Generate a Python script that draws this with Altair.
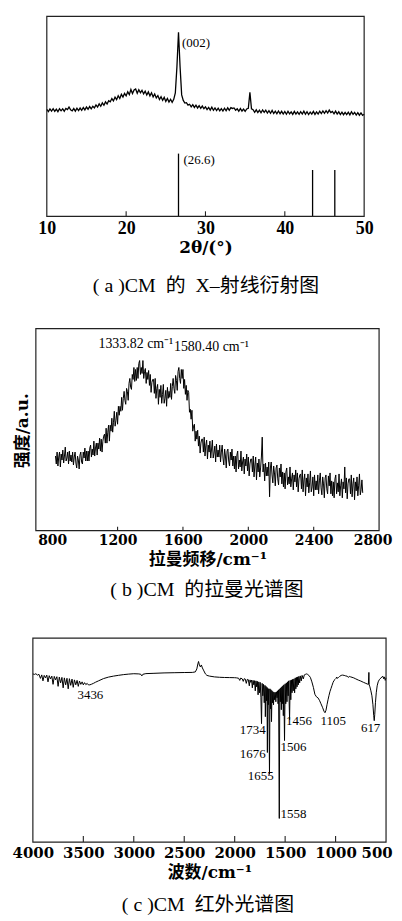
import altair as alt
import pandas as pd

LAT = "Liberation Serif, Noto Sans CJK SC"
DJV = "DejaVu Serif, Noto Sans CJK SC"
INK = "black"

# ---------------- (a) XRD ----------------
xrd_start, xrd_step = 10.0, 0.2
xrd_intensity = [
    107.5, 105.2, 108.0, 105.8, 108.2, 105.5, 107.6, 105.1, 108.1, 106.0,
    107.9, 105.6, 108.4, 107.2, 109.8, 107.0, 105.9, 108.3, 105.7, 108.6,
    106.2, 108.8, 106.5, 109.3, 106.9, 109.8, 107.6, 110.3, 108.0, 110.6,
    109.0, 112.0, 109.8, 113.0, 110.6, 114.0, 111.6, 115.0, 112.8, 116.2,
    115.0, 118.3, 115.9, 119.8, 117.2, 121.2, 118.4, 122.6, 119.8, 123.5,
    121.0, 125.2, 122.3, 127.5, 123.4, 126.9, 128.0, 123.6, 127.2, 124.2,
    126.6, 123.0, 125.8, 121.9, 125.0, 121.0, 124.1, 120.0, 123.0, 119.0,
    121.3, 117.4, 120.2, 116.5, 119.5, 115.5, 118.4, 114.8, 117.6, 114.6,
    117.5, 124.0, 150.0, 185.0, 150.0, 122.0, 116.5, 113.8, 114.2, 111.8,
    112.6, 110.0, 112.2, 109.4, 111.7, 108.9, 111.1, 108.5, 110.8, 108.1,
    110.0, 107.2, 109.4, 106.7, 109.6, 106.5, 108.9, 106.3, 108.7, 106.0,
    108.2, 105.8, 108.6, 106.1, 109.0, 106.6, 109.2, 108.4, 108.9, 106.6,
    108.0, 105.6, 108.3, 105.8, 107.8, 105.4, 107.9, 108.5, 124.5, 108.0,
    107.2, 104.5, 107.0, 104.2, 106.7, 104.0, 106.9, 104.4, 106.6, 103.8,
    106.2, 103.5, 106.4, 103.3, 105.7, 103.0, 105.8, 103.1, 105.5, 102.8,
    105.3, 102.6, 105.6, 102.9, 105.0, 102.4, 105.4, 102.7, 104.9, 102.5,
    105.2, 102.8, 105.7, 102.6, 105.1, 102.3, 104.8, 102.7, 105.4, 102.4,
    105.0, 102.7, 105.6, 103.2, 105.9, 103.5, 106.1, 103.8, 106.7, 104.2,
    105.4, 103.0, 105.7, 102.7, 105.0, 102.3, 104.7, 102.1, 104.5, 102.2,
    104.7, 102.0, 105.1, 102.4, 104.4, 101.8, 104.2, 101.6, 103.9, 101.4,
    102.6,
]
xrd_2theta = [round(xrd_start + xrd_step * i, 1) for i in range(len(xrd_intensity))]
xrd_ref_pos = [26.6, 43.5, 46.3]
xrd_ref_height = [63, 46.5, 46.5]
xrd_label_x = [28.8, 29.2]
xrd_label_y = [174, 57]
xrd_label_text = ["(002)", "(26.6)"]
xrd_domain = [10, 50]
xrd_top = 201
xrd_tick_labels = [10, 20, 30, 40, 50]
xrd_inner_ticks = [20, 30, 40]

# ---------------- (b) Raman ----------------
raman_start, raman_step = 820, 5
raman_intensity = [
    75, 67, 79, 65, 74, 79, 64, 77, 71, 81, 68, 75, 84, 70, 73, 79, 67, 80, 70, 76,
    69, 79, 66, 74, 79, 68, 63, 75, 71, 62, 76, 79, 69, 67, 79, 73, 83, 70, 80, 70,
    80, 70, 83, 86, 74, 82, 76, 90, 75, 83, 88, 76, 88, 82, 93, 80, 92, 79, 90, 95,
    97, 88, 103, 88, 99, 106, 90, 106, 100, 113, 99, 109, 120, 105, 111, 119, 107, 125, 116, 125,
    120, 134, 121, 133, 140, 131, 127, 143, 140, 131, 148, 153, 144, 142, 157, 152, 164, 150, 162, 151,
    164, 153, 168, 171, 157, 164, 158, 171, 153, 160, 163, 148, 159, 152, 161, 146, 157, 139, 149, 152,
    152, 138, 153, 133, 143, 147, 127, 142, 134, 146, 128, 137, 147, 128, 133, 141, 125, 144, 133, 140,
    134, 148, 132, 145, 153, 143, 138, 156, 151, 141, 160, 164, 153, 148, 162, 153, 162, 143, 152, 137,
    146, 131, 141, 139, 119, 122, 112, 121, 100, 105, 107, 90, 100, 92, 101, 85, 95, 78, 88, 92,
    92, 79, 94, 75, 86, 91, 72, 86, 79, 90, 73, 82, 91, 73, 78, 85, 69, 87, 74, 81,
    74, 86, 69, 79, 86, 73, 66, 82, 75, 63, 80, 82, 70, 65, 79, 71, 82, 65, 75, 62,
    75, 59, 76, 80, 62, 71, 64, 80, 60, 69, 74, 57, 72, 65, 77, 60, 74, 55, 67, 72,
    72, 59, 75, 54, 66, 74, 51, 68, 59, 72, 54, 63, 74, 94, 59, 67, 50, 68, 55, 64,
    55, 69, 34, 63, 69, 56, 48, 65, 58, 45, 63, 66, 52, 46, 63, 54, 67, 47, 59, 44,
    58, 42, 59, 63, 46, 54, 47, 64, 44, 52, 58, 41, 56, 49, 61, 44, 58, 39, 52, 56,
    57, 42, 61, 39, 51, 57, 35, 53, 44, 57, 38, 48, 60, 39, 44, 54, 35, 56, 41, 50,
    41, 56, 37, 50, 58, 43, 36, 54, 47, 33, 53, 56, 42, 37, 55, 45, 58, 37, 50, 35,
    49, 33, 52, 56, 37, 48, 39, 57, 35, 45, 52, 33, 49, 42, 64, 38, 53, 32, 47, 52,
    52, 37, 56, 34, 47, 53, 31, 49, 40, 54, 35, 45, 57, 36, 41, 51, 38,
]
raman_shift = [raman_start + raman_step * i for i in range(len(raman_intensity))]
raman_label_x = [1312, 1774]
raman_label_y = [188, 185]
raman_label_text = ["1333.82 cm⁻¹", "1580.40 cm⁻¹"]
raman_domain = [700, 2800]
raman_top = 203
raman_tick_labels = [800, 1200, 1600, 2000, 2400, 2800]
raman_inner_ticks = [1200, 1600, 2000, 2400]

# ---------------- (c) IR ----------------
ir_wavenumber = [
    4000, 3985, 3970, 3955, 3940, 3925, 3912, 3900, 3888, 3875,
    3862, 3850, 3838, 3825, 3812, 3800, 3788, 3775, 3762, 3750,
    3738, 3725, 3712, 3700, 3688, 3675, 3662, 3650, 3638, 3625,
    3612, 3600, 3588, 3575, 3562, 3550, 3538, 3525, 3512, 3500,
    3488, 3475, 3462, 3450, 3436, 3420, 3400, 3380, 3350, 3300,
    3250, 3200, 3150, 3100, 3050, 3000, 2950, 2930, 2920, 2910,
    2880, 2800, 2700, 2600, 2500, 2420, 2390, 2375, 2365, 2358,
    2350, 2340, 2330, 2320, 2305, 2290, 2275, 2250, 2200, 2150,
    2100, 2050, 2000, 1980, 1960, 1950, 1940, 1925, 1915, 1905,
    1895, 1885, 1875, 1865, 1855, 1848, 1840, 1832, 1825, 1818,
    1810, 1803, 1796, 1789, 1782, 1775, 1768, 1761, 1754, 1747,
    1740, 1734, 1728, 1721, 1714, 1707, 1700, 1696, 1690, 1684,
    1680, 1676, 1672, 1667, 1662, 1655, 1650, 1645, 1640, 1635,
    1630, 1625, 1620, 1615, 1610, 1604, 1598, 1592, 1586, 1580,
    1575, 1570, 1565, 1558, 1553, 1548, 1543, 1538, 1533, 1528,
    1523, 1518, 1513, 1506, 1500, 1494, 1488, 1482, 1476, 1470,
    1465, 1456, 1450, 1444, 1438, 1432, 1426, 1420, 1413, 1406,
    1400, 1394, 1388, 1382, 1376, 1370, 1364, 1356, 1350, 1340,
    1332, 1320, 1310, 1300, 1290, 1280, 1265, 1250, 1235, 1220,
    1205, 1190, 1175, 1160, 1145, 1130, 1115, 1105, 1095, 1085,
    1075, 1065, 1055, 1045, 1035, 1025, 1015, 1005, 995, 990,
    985, 970, 960, 945, 930, 915, 900, 885, 875, 865,
    850, 820, 800, 775, 750, 725, 700, 685, 675, 670,
    667, 660, 650, 640, 630, 622, 617, 612, 605, 597,
    588, 578, 565, 550, 540, 530, 522, 515, 508, 500,
]
ir_transmittance = [
    169.0, 168.5, 169.2, 167.8, 168.6, 164.5, 168.0, 162.0, 167.5, 165.0,
    167.8, 161.0, 167.2, 164.0, 166.8, 158.5, 166.5, 163.0, 166.2, 156.5,
    165.8, 160.0, 165.5, 155.0, 165.0, 158.0, 164.6, 154.0, 164.2, 157.5,
    163.8, 155.5, 163.0, 158.0, 162.5, 156.5, 161.8, 158.5, 161.0, 158.0,
    160.2, 158.2, 159.5, 158.0, 158.0, 158.6, 159.5, 160.6, 162.0, 164.3,
    165.8, 166.8, 167.6, 168.3, 168.8, 169.2, 169.0, 168.6, 167.0, 168.6,
    169.3, 169.6, 170.0, 170.2, 170.4, 170.5, 171.0, 174.0, 179.0, 181.5,
    178.0, 176.0, 178.0, 175.0, 172.0, 169.0, 167.5, 166.8, 166.0, 165.6,
    165.4, 165.3, 165.2, 165.0, 164.6, 162.5, 164.8, 164.0, 161.5, 164.2,
    163.8, 159.5, 163.5, 163.2, 157.0, 163.0, 160.5, 162.8, 155.0, 162.5,
    158.0, 162.2, 152.0, 162.0, 156.0, 161.5, 148.0, 161.0, 150.0, 160.5,
    145.0, 119.0, 159.5, 147.0, 158.5, 140.0, 157.5, 126.0, 156.5, 142.0,
    155.5, 90.0, 154.5, 138.0, 154.0, 68.0, 154.0, 134.0, 153.0, 121.0,
    152.0, 140.0, 151.0, 138.0, 150.5, 143.0, 150.5, 141.0, 151.0, 145.0,
    152.0, 139.0, 153.0, 23.7, 154.0, 141.0, 155.0, 133.0, 156.0, 139.0,
    157.0, 127.0, 158.0, 102.0, 159.0, 139.0, 160.0, 141.0, 161.0, 147.0,
    162.0, 123.0, 162.5, 143.0, 163.0, 150.0, 163.5, 152.0, 164.0, 150.0,
    165.0, 154.0, 165.5, 156.0, 166.0, 158.0, 166.5, 160.0, 167.0, 162.0,
    167.5, 164.0, 168.0, 168.5, 169.0, 168.7, 167.5, 165.5, 161.0, 155.5,
    148.5, 146.0, 145.0, 142.5, 139.0, 135.5, 131.5, 130.0, 132.5, 138.0,
    143.0, 147.5, 151.5, 154.5, 157.5, 160.5, 162.5, 163.5, 164.5, 165.8,
    164.6, 165.5, 166.5, 167.5, 167.8, 167.5, 167.0, 166.7, 165.5, 166.4,
    166.0, 165.0, 164.0, 162.8, 161.8, 160.6, 159.5, 158.8, 158.5, 170.5,
    158.0, 156.0, 152.0, 147.0, 138.0, 127.0, 122.0, 128.0, 140.0, 150.0,
    157.0, 161.0, 163.5, 165.0, 166.0, 166.5, 164.0, 166.0, 162.5, 165.0,
]
ir_label_x = [3430, 1821, 1821, 1742, 1417, 1417, 1363, 1023, 653]
ir_label_y = [148, 113, 88, 66, 28, 96, 122, 122, 115]
ir_label_text = ["3436", "1734", "1676", "1655", "1558", "1506", "1456", "1105", "617"]
ir_domain = [4000, 500]
ir_top = 205
ir_tick_labels = [4000, 3500, 3000, 2500, 2000, 1500, 1000, 500]
ir_inner_ticks = [3500, 3000, 2500, 2000, 1500, 1000]

assert len(ir_wavenumber) == len(ir_transmittance)

PANEL_W = 386


def x_axis(values, font, size, pad, title, tfont, tsize, tpad, edge_value=None, edge_shift=0):
    extra = {}
    if edge_value is not None:
        extra["labelOffset"] = {"condition": {"test": f"datum.value === {edge_value}",
                                              "value": edge_shift}, "value": 0}
    return alt.Axis(values=values, format="d", grid=False, domain=False, ticks=False,
                    labelFlush=False, labelOverlap=False, labelFont=font,
                    labelFontSize=size, labelFontWeight="bold", labelColor=INK,
                    labelPadding=pad, title=title, titleFont=tfont, titleFontSize=tsize,
                    titleFontWeight="bold", titleColor=INK, titlePadding=tpad, **extra)


def panel(xs, ys, xax, yax, domain, top, ticks, tick_len, line_df, xf, yf, lw,
          extra_layers, lab_df, lab_size):
    X = lambda f: alt.X(f, scale=xs, axis=xax)
    Y = lambda f: alt.Y(f, scale=ys, axis=yax)
    layers = []
    layers.append(alt.Chart(line_df).mark_line(color=INK, strokeWidth=lw).encode(
        x=X(xf + ":Q"), y=Y(yf + ":Q")))
    for df in extra_layers:
        layers.append(alt.Chart(df).mark_rule(color=INK, strokeWidth=1.3).encode(
            x=X("p:Q"), y=Y("z:Q"), y2="h:Q"))
    layers.append(alt.Chart(lab_df).mark_text(
        font=LAT, fontSize=lab_size, color=INK, align="center", baseline="middle").encode(
        x=X("x:Q"), y=Y("y:Q"), text="s:N"))
    tk = pd.DataFrame({"v": ticks, "y0": [0] * len(ticks), "y1": [tick_len] * len(ticks)})
    layers.append(alt.Chart(tk).mark_rule(color="#222", strokeWidth=1.1).encode(
        x=X("v:Q"), y=Y("y0:Q"), y2="y1:Q"))
    fr = pd.DataFrame({"x0": [domain[0]], "x1": [domain[1]], "y0": [0], "y1": [top]})
    layers.append(alt.Chart(fr).mark_rect(fillOpacity=0, stroke="#222", strokeWidth=1.2).encode(
        x=X("x0:Q"), x2="x1:Q", y=Y("y0:Q"), y2="y1:Q"))
    return alt.layer(*layers)


def caption(text, offset, dx):
    return alt.TitleParams(text=text, orient="bottom", frame="group", anchor="middle",
                           offset=offset, dx=dx, baseline="top", font=LAT, fontSize=20,
                           fontWeight="normal", color=INK)


SP = "\u2002"

# ----- panel a -----
xa = alt.Scale(domain=xrd_domain, range=[38, 357], nice=False, zero=False)
ya = alt.Scale(domain=[0, xrd_top], nice=False, zero=False)
ref_df = pd.DataFrame({"p": xrd_ref_pos, "h": xrd_ref_height, "z": [0] * len(xrd_ref_pos)})
panel_a = panel(
    xa, ya, x_axis(xrd_tick_labels, LAT, 18, 3, "2θ/(°)", DJV, 17, 2), None,
    xrd_domain, xrd_top, xrd_inner_ticks, 5,
    pd.DataFrame({"t": xrd_2theta, "i": xrd_intensity}), "t", "i", 1.3, [ref_df],
    pd.DataFrame({"x": xrd_label_x, "y": xrd_label_y, "s": xrd_label_text}), 13,
).properties(width=PANEL_W, height=201,
             title=caption(f"( a )CM{SP}的{SP}X–射线衍射图", 20.8, 5))

# ----- panel b -----
xb = alt.Scale(domain=raman_domain, range=[27, 372], nice=False, zero=False)
yb = alt.Scale(domain=[0, 208], nice=False, zero=False)
y_axis_b = alt.Axis(title="强度/a.u.", labels=False, ticks=False, domain=False, grid=False,
                    titleFont=DJV, titleFontSize=17, titleFontWeight="bold", titleColor=INK,
                    titleAngle=270, titleX=14, titleY=107, titleAlign="center",
                    titleBaseline="middle")
panel_b = panel(
    xb, yb, x_axis(raman_tick_labels, DJV, 14, 3, "拉曼频移/cm⁻¹", DJV, 17, 4, 2800, -6.5),
    y_axis_b, raman_domain, raman_top, raman_inner_ticks, 4,
    pd.DataFrame({"s": raman_shift, "r": raman_intensity}), "s", "r", 1.0, [],
    pd.DataFrame({"x": raman_label_x, "y": raman_label_y, "s": raman_label_text}), 14,
).properties(width=PANEL_W, height=208,
             title=caption(f"( b )CM{SP}的拉曼光谱图", 12.4, 6))

# ----- panel c -----
xc = alt.Scale(domain=ir_domain, range=[24, 379], nice=False, zero=False)
yc = alt.Scale(domain=[0, ir_top], nice=False, zero=False)
panel_c = panel(
    xc, yc, x_axis(ir_tick_labels, DJV, 15, 4, "波数/cm⁻¹", DJV, 17, 4, 500, -9.5), None,
    ir_domain, ir_top, ir_inner_ticks, 6,
    pd.DataFrame({"w": ir_wavenumber, "a": ir_transmittance}), "w", "a", 1.0, [],
    pd.DataFrame({"x": ir_label_x, "y": ir_label_y, "s": ir_label_text}), 13,
).properties(width=PANEL_W, height=205,
             title=caption(f"( c )CM{SP}红外光谱图", 14.8, 7))

chart = alt.vconcat(panel_a, panel_b, panel_c, spacing=108, bounds="flush").properties(
    padding={"left": 0, "top": 4, "right": 0, "bottom": 0}
).configure_view(stroke="transparent")

chart.save("out.html", embed_options={"renderer": "svg", "actions": False})
